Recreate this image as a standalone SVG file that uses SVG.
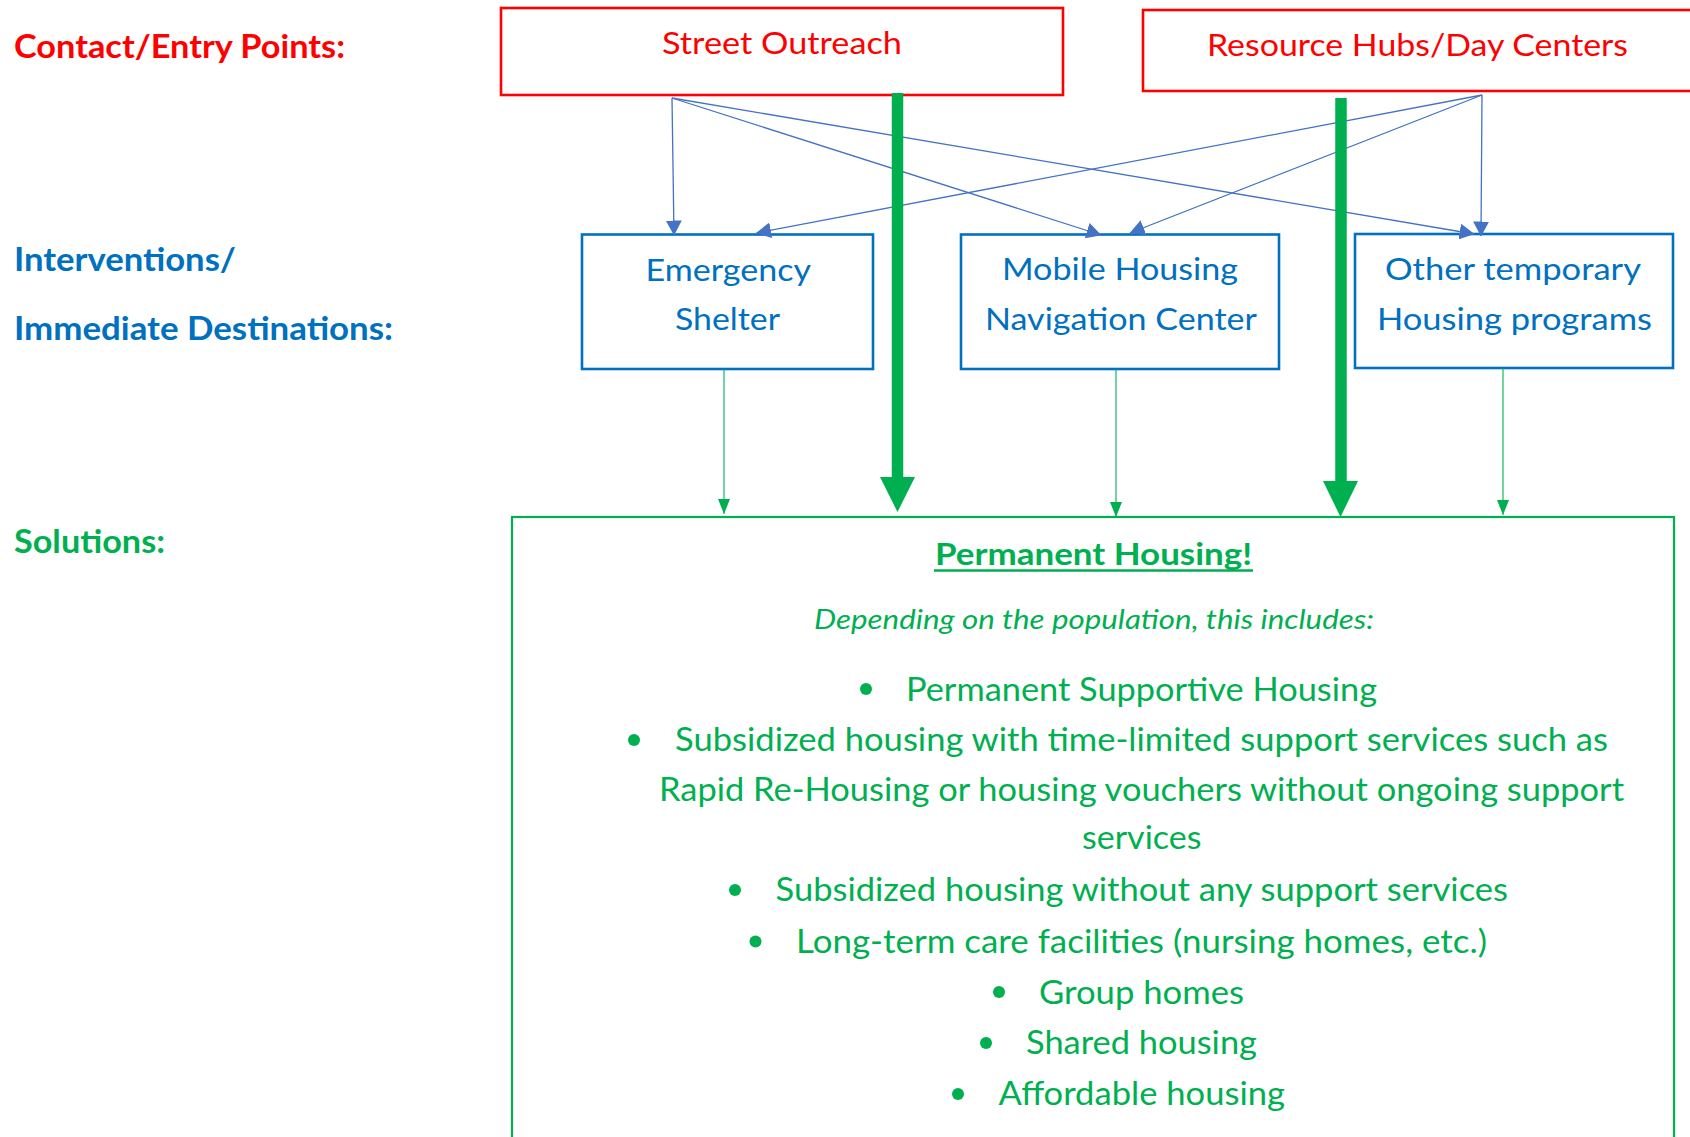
<svg xmlns="http://www.w3.org/2000/svg" width="1690" height="1137" viewBox="0 0 1690 1137">
<style>
text{font-family:Lato,"Open Sans","Liberation Sans",sans-serif;}
.lbl{font-weight:700;font-size:32px;}
.red{fill:#FF0000;}
.blue{fill:#0070C0;}
.green{fill:#00B050;}
.box-r{fill:#fff;stroke:#FF0000;stroke-width:2.6;}
.box-b{fill:#fff;stroke:#0070C0;stroke-width:2.6;}
.box-g{fill:#fff;stroke:#00B050;stroke-width:2.2;}
.bt{font-size:31px;}
.li{font-size:32px;fill:#00B050;}
.cb{stroke:#4472C4;stroke-width:1.3;fill:none;marker-end:url(#ab);}
.cg{stroke:#00B050;stroke-width:1.1;fill:none;marker-end:url(#ag);}
.ct{stroke:#00B050;stroke-width:11.5;fill:none;}
.ch{fill:#00B050;}
</style>
<defs>
<marker id="ab" markerUnits="userSpaceOnUse" markerWidth="15" markerHeight="16" refX="14.5" refY="8" orient="auto" viewBox="0 0 15 16"><path d="M0,0 L15,8 L0,16 z" fill="#4472C4"/></marker>
<marker id="ag" markerUnits="userSpaceOnUse" markerWidth="15" markerHeight="12" refX="15" refY="6" orient="auto" viewBox="0 0 15 12"><path d="M0,0 L15,6 L0,12 z" fill="#00B050"/></marker>
</defs>
<rect width="1690" height="1137" fill="#fff"/>

<g id="labels">
<text class="lbl red" x="14" y="58" textLength="331" lengthAdjust="spacingAndGlyphs">Contact/Entry Points:</text>
<text class="lbl blue" x="14" y="271" textLength="222" lengthAdjust="spacingAndGlyphs">Interventions/</text>
<text class="lbl blue" x="14" y="340" textLength="379" lengthAdjust="spacingAndGlyphs">Immediate Destinations:</text>
<text class="lbl green" x="14" y="553" textLength="151" lengthAdjust="spacingAndGlyphs">Solutions:</text>
</g>

<g id="street-outreach">
<rect class="box-r" x="501" y="8" width="562" height="87"/>
<text class="bt red" x="662" y="54" textLength="240" lengthAdjust="spacingAndGlyphs">Street Outreach</text>
</g>

<g id="resource-hubs">
<rect class="box-r" x="1143" y="10" width="580" height="81"/>
<text class="bt red" x="1207" y="56" textLength="421" lengthAdjust="spacingAndGlyphs">Resource Hubs/Day Centers</text>
</g>

<g id="emergency-shelter">
<rect class="box-b" x="582" y="234.5" width="291" height="134.5"/>
<text class="bt blue" x="645.5" y="281" textLength="165.5" lengthAdjust="spacingAndGlyphs">Emergency</text>
<text class="bt blue" x="675" y="330" textLength="105" lengthAdjust="spacingAndGlyphs">Shelter</text>
</g>

<g id="mobile-housing">
<rect class="box-b" x="961" y="234.5" width="318" height="134.5"/>
<text class="bt blue" x="1002" y="280" textLength="236" lengthAdjust="spacingAndGlyphs">Mobile Housing</text>
<text class="bt blue" x="985" y="330" textLength="272" lengthAdjust="spacingAndGlyphs">Navigation Center</text>
</g>

<g id="other-temporary">
<rect class="box-b" x="1355" y="234" width="318" height="134"/>
<text class="bt blue" x="1385" y="279.5" textLength="256" lengthAdjust="spacingAndGlyphs">Other temporary</text>
<text class="bt blue" x="1377" y="329.5" textLength="275" lengthAdjust="spacingAndGlyphs">Housing programs</text>
</g>

<g id="permanent-housing">
<rect class="box-g" x="512" y="517" width="1162" height="660"/>
<text class="green" x="935" y="565" font-size="31" font-weight="700" textLength="317" lengthAdjust="spacingAndGlyphs">Permanent Housing!</text>
<line x1="934" y1="570.5" x2="1253" y2="570.5" stroke="#00B050" stroke-width="2.4"/>
<text class="green" x="814" y="629" font-size="27" font-style="italic" textLength="560" lengthAdjust="spacingAndGlyphs">Depending on the population, this includes:</text>
<g class="ch">
<circle cx="866" cy="689" r="6"/>
<circle cx="634" cy="740" r="6"/>
<circle cx="735" cy="890" r="6"/>
<circle cx="755.5" cy="941.5" r="6"/>
<circle cx="999" cy="992" r="6"/>
<circle cx="986" cy="1043" r="6"/>
<circle cx="958" cy="1094" r="6"/>
</g>
<text class="li" x="906" y="701" textLength="471" lengthAdjust="spacingAndGlyphs">Permanent Supportive Housing</text>
<text class="li" x="675" y="751" textLength="933" lengthAdjust="spacingAndGlyphs">Subsidized housing with time-limited support services such as</text>
<text class="li" x="659" y="801" textLength="965" lengthAdjust="spacingAndGlyphs">Rapid Re-Housing or housing vouchers without ongoing support</text>
<text class="li" x="1082" y="849" textLength="119.5" lengthAdjust="spacingAndGlyphs">services</text>
<text class="li" x="775.5" y="901" textLength="732.5" lengthAdjust="spacingAndGlyphs">Subsidized housing without any support services</text>
<text class="li" x="796" y="952.5" textLength="691" lengthAdjust="spacingAndGlyphs">Long-term care facilities (nursing homes, etc.)</text>
<text class="li" x="1039" y="1003.5" textLength="205" lengthAdjust="spacingAndGlyphs">Group homes</text>
<text class="li" x="1026" y="1054" textLength="231" lengthAdjust="spacingAndGlyphs">Shared housing</text>
<text class="li" x="998.5" y="1105" textLength="286.5" lengthAdjust="spacingAndGlyphs">Affordable housing</text>
</g>

<g id="connectors">
<line class="cb" x1="672" y1="98" x2="674" y2="235"/>
<line class="cb" x1="672" y1="98" x2="1101" y2="235"/>
<line class="cb" x1="672" y1="98" x2="1474" y2="234"/>
<line class="cb" x1="1482" y1="95" x2="756.5" y2="233"/>
<line class="cb" x1="1482" y1="95" x2="1130" y2="233"/>
<line class="cb" x1="1482" y1="95" x2="1481" y2="236"/>
<line class="cg" x1="724" y1="369" x2="724" y2="514"/>
<line class="cg" x1="1116" y1="369" x2="1116" y2="517"/>
<line class="cg" x1="1503" y1="368" x2="1503" y2="515"/>
<line class="ct" x1="897.5" y1="93" x2="897.5" y2="480"/>
<path class="ch" d="M880,477 L915,477 L897.5,512 z"/>
<line class="ct" x1="1341" y1="98" x2="1341" y2="484"/>
<path class="ch" d="M1323,481 L1358,481 L1340.5,517 z"/>
</g>
</svg>
